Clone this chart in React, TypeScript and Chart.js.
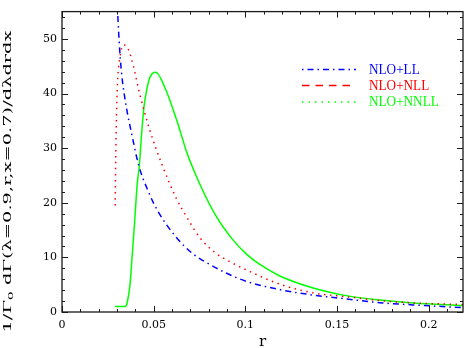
import React, { useEffect, useRef } from "react";
import { Chart, registerables } from "chart.js";

Chart.register(...registerables);

// ---- data ----
const seriesNames = ["NLO+LL", "NLO+NLL", "NLO+NNLL"];

const rLL = [0.0296, 0.0303, 0.0312, 0.0324, 0.0351, 0.0379, 0.0418, 0.0469, 0.0524, 0.0625, 0.0716, 0.0807, 0.0898, 0.1006, 0.1188, 0.137, 0.155, 0.1733, 0.1915, 0.2187];
const vLL = [58, 55, 49.4, 44, 37.5, 32.8, 26.9, 22.2, 18.4, 13.6, 10.6, 8.7, 7.1, 5.6, 4.1, 3.1, 2.4, 1.7, 1.3, 0.8];

const rNLL = [0.029, 0.0294, 0.0301, 0.0315, 0.0337, 0.036, 0.0388, 0.0424, 0.0478, 0.0543, 0.0625, 0.068, 0.0752, 0.0834, 0.0916, 0.1025, 0.1188, 0.137, 0.155, 0.1733, 0.191, 0.2187];
const vNLL = [19.5, 30.4, 40.5, 46.4, 48.9, 48.2, 45.2, 39.9, 33.4, 27.2, 20.7, 17.4, 13.6, 10.9, 9.2, 7.4, 5.1, 3.5, 2.8, 2.1, 1.67, 1.37];

const rNNLL = [0.0289, 0.0343, 0.0352, 0.0361, 0.0371, 0.0383, 0.0398, 0.041, 0.0421, 0.0434, 0.0447, 0.0461, 0.048, 0.0512, 0.0561, 0.0625, 0.068, 0.0752, 0.0843, 0.093, 0.1006, 0.1079, 0.1188, 0.137, 0.155, 0.1733, 0.1915, 0.2187];
const vNNLL = [1.0, 1.0, 1.3, 2.7, 5.0, 10.4, 17.4, 23.4, 26.5, 32.5, 37.5, 40.5, 43, 43.9, 41.1, 35.2, 29.3, 23.4, 17.4, 13.3, 10.6, 8.7, 6.6, 4.4, 3.0, 2.2, 1.67, 1.2];

const xTickValues = [0, 0.05, 0.1, 0.15, 0.2];
const xTickLabels = ["0", "0.05", "0.1", "0.15", "0.2"];
const yTickValues = [0, 10, 20, 30, 40, 50];
const yTickLabels = ["0", "10", "20", "30", "40", "50"];
const xMinorStep = 0.01;
const yMinorStep = 2;

const xTitle = "r";
const yTitleA = "1/Γ";
const yTitleSub = "0";
const yTitleB = " dΓ(λ=0.9,r,x=0.7)/dλdrdx";

// ---- styles ----
const colors = ["#0000ff", "#ff0000", "#00ff00"];
const curveDash = [[1.5, 4, 6, 4], [1.5, 4.5], []];
const legendDash = [[1.5, 4, 6, 4], [7.5, 6], [1.5, 5]];

const X_MIN = 0, X_MAX = 0.2187, Y_MIN = 0, Y_MAX = 55;

const pts = (rs: number[], vs: number[]) => rs.map((r, i) => ({ x: r, y: vs[i] }));

const decor = {
  id: "decor",
  afterDraw(chart: any) {
    const { ctx, chartArea: a, scales } = chart;
    const xs = scales.x, ys = scales.y;
    ctx.save();
    // frame
    ctx.strokeStyle = "#1a1a1a";
    ctx.lineWidth = 1.3;
    ctx.strokeRect(a.left, a.top, a.right - a.left, a.bottom - a.top);
    // ticks
    ctx.lineWidth = 1;
    ctx.beginPath();
    for (let i = 0; X_MIN + i * xMinorStep <= X_MAX + 1e-9; i++) {
      const v = X_MIN + i * xMinorStep;
      const major = i % 5 === 0;
      const len = major ? 6 : 3;
      const px = Math.round(xs.getPixelForValue(v)) + 0.5;
      ctx.moveTo(px, a.bottom);
      ctx.lineTo(px, a.bottom - len);
      ctx.moveTo(px, a.top);
      ctx.lineTo(px, a.top + len);
    }
    for (let i = 0; Y_MIN + i * yMinorStep <= Y_MAX + 1e-9; i++) {
      const v = Y_MIN + i * yMinorStep;
      const major = v % 10 === 0;
      const len = major ? 6 : 3;
      const py = Math.round(ys.getPixelForValue(v)) + 0.5;
      ctx.moveTo(a.left, py);
      ctx.lineTo(a.left + len, py);
      ctx.moveTo(a.right, py);
      ctx.lineTo(a.right - len, py);
    }
    ctx.stroke();

    // legend
    const rowsY = [69.5, 85.5, 102];
    for (let i = 0; i < 3; i++) {
      ctx.save();
      ctx.strokeStyle = colors[i];
      ctx.lineWidth = 1.5;
      ctx.setLineDash(legendDash[i]);
      ctx.beginPath();
      ctx.moveTo(302, rowsY[i]);
      ctx.lineTo(356, rowsY[i]);
      ctx.stroke();
      ctx.setLineDash([]);
      ctx.fillStyle = colors[i];
      ctx.font = '15px "Liberation Serif"';
      ctx.textBaseline = "middle";
      ctx.translate(369, rowsY[i] + 0.5);
      ctx.scale(0.88, 1);
      ctx.fillText(seriesNames[i], 0, 0);
      ctx.restore();
    }

    // x title
    ctx.fillStyle = "#000";
    ctx.font = '15px "DejaVu Serif"';
    ctx.textAlign = "center";
    ctx.textBaseline = "alphabetic";
    ctx.fillText(xTitle, (a.left + a.right) / 2 + 0, 346);

    // y title (rotated, stretched to the reference length)
    ctx.save();
    ctx.textAlign = "left";
    const mainFont = '11px "DejaVu Serif"';
    const subFont = '8px "DejaVu Serif"';
    ctx.font = mainFont;
    const wA = ctx.measureText(yTitleA).width;
    const wB = ctx.measureText(yTitleB).width;
    ctx.font = subFont;
    const wS = ctx.measureText(yTitleSub).width;
    const W = wA + wS + wB;
    const target = 302;
    ctx.translate(10.5, 181.5);
    ctx.rotate(-Math.PI / 2);
    ctx.scale(target / W, 1);
    let cx = -W / 2;
    ctx.font = mainFont;
    ctx.fillText(yTitleA, cx, 0);
    cx += wA;
    ctx.font = subFont;
    ctx.fillText(yTitleSub, cx, 2);
    cx += wS;
    ctx.font = mainFont;
    ctx.fillText(yTitleB, cx, 0);
    ctx.restore();

    ctx.restore();
  },
};

export default function App() {
  const ref = useRef<HTMLCanvasElement | null>(null);
  useEffect(() => {
    if (!ref.current) return;
    const datasets = [pts(rLL, vLL), pts(rNLL, vNLL), pts(rNNLL, vNNLL)].map((d, i) => ({
      label: seriesNames[i],
      data: d,
      showLine: true,
      borderColor: colors[i],
      backgroundColor: colors[i],
      borderWidth: 1.5,
      borderDash: curveDash[i],
      pointRadius: 0,
      cubicInterpolationMode: "monotone" as const,
      fill: false,
    }));
    const tickFont = { family: '"DejaVu Serif"', size: 11 };
    const chart = new Chart(ref.current, {
      type: "scatter",
      data: { datasets },
      options: {
        animation: false,
        responsive: false,
        maintainAspectRatio: false,
        layout: { padding: { top: 2, right: 4, left: 0, bottom: 0 } },
        plugins: { legend: { display: false }, tooltip: { enabled: false } },
        scales: {
          x: {
            type: "linear",
            min: X_MIN,
            max: X_MAX,
            grid: { display: false, drawTicks: false },
            border: { display: false },
            afterBuildTicks: (s: any) => { s.ticks = xTickValues.map((v) => ({ value: v })); },
            afterFit: (s: any) => { s.height = 36; },
            ticks: {
              autoSkip: false,
              maxRotation: 0,
              padding: 7,
              color: "#000",
              font: tickFont,
              callback: (_v: any, i: number) => xTickLabels[i],
            },
          },
          y: {
            type: "linear",
            min: Y_MIN,
            max: Y_MAX,
            grid: { display: false, drawTicks: false },
            border: { display: false },
            afterBuildTicks: (s: any) => { s.ticks = yTickValues.map((v) => ({ value: v })); },
            afterFit: (s: any) => { s.width = 62; },
            ticks: {
              autoSkip: false,
              padding: 5,
              color: "#000",
              font: tickFont,
              callback: (_v: any, i: number) => yTickLabels[i],
            },
          },
        },
      },
      plugins: [decor],
    });
    return () => chart.destroy();
  }, []);
  return (
    <div style={{ position: "absolute", left: 0, top: 0, width: 467, height: 348, background: "#fff" }}>
      <canvas ref={ref} width={467} height={348} style={{ display: "block" }} />
    </div>
  );
}
